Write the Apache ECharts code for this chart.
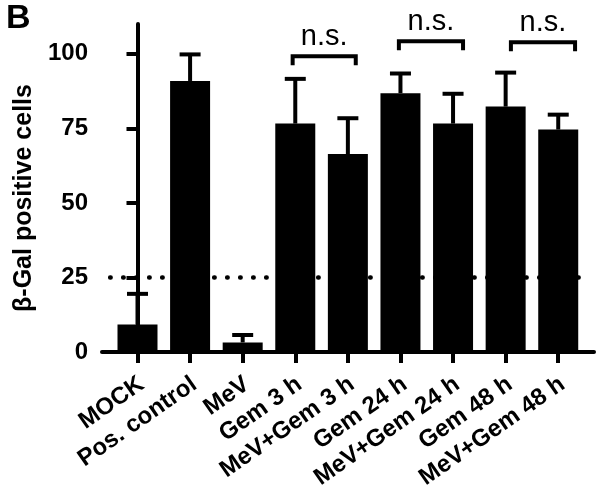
<!DOCTYPE html>
<html>
<head>
<meta charset="utf-8">
<script src="https://cdn.jsdelivr.net/npm/echarts@6/dist/echarts.min.js"></script>
<style>html,body{margin:0;padding:0;background:#fff}#c{width:602px;height:492px}</style>
</head>
<body>
<div id="c"></div>
<script>
const categories = ['MOCK','Pos. control','MeV','Gem 3 h','MeV+Gem 3 h','Gem 24 h','MeV+Gem 24 h','Gem 48 h','MeV+Gem 48 h'];
const means = [9.2, 90.9, 3.2, 76.6, 66.4, 86.8, 76.6, 82.3, 74.6];
const errUpper = [19.5, 99.8, 5.7, 91.6, 78.4, 93.4, 86.6, 93.7, 79.6];
const yTicks = [0, 25, 50, 75, 100];
const threshold = 25;
const bracketStart = [2.95, 4.97, 7.10];
const bracketEnd = [4.15, 6.19, 8.32];
const bracketHeight = [99.2, 104.2, 103.9];
const bracketLabel = ['n.s.', 'n.s.', 'n.s.'];

const FONT = '"Liberation Sans", Arial, Helvetica, sans-serif';
const catIdx = categories.map((c, i) => i);
const LABEL_SHIFT = 0.08;

const chart = echarts.init(document.getElementById('c'), null, {renderer: 'canvas'});
chart.setOption({
  animation: false,
  backgroundColor: '#fff',
  title: {text: 'B', left: 6, top: 2, padding: 0, textStyle: {fontFamily: FONT, fontSize: 34, fontWeight: 'bold', color: '#000'}},
  grid: {left: 102, right: 8, top: 24, bottom: 140, containLabel: false, outerBoundsMode: 'none'},
  xAxis: {
    type: 'value', min: -0.675, max: 8.68,
    axisLine: {show: true, lineStyle: {color: '#000', width: 4}},
    axisTick: {show: true, customValues: catIdx, length: 11, lineStyle: {color: '#000', width: 4}},
    axisLabel: {
      customValues: catIdx.map(i => i + LABEL_SHIFT), rotate: 35, margin: 30,
      formatter: v => categories[Math.round(v)] || '',
      fontFamily: FONT, fontSize: 24, fontWeight: 'bold', color: '#000'
    },
    splitLine: {show: false}
  },
  yAxis: {
    type: 'value', min: 0, max: 110,
    name: 'β-Gal positive cells', nameLocation: 'middle', nameRotate: 90, nameGap: 60,
    nameTextStyle: {fontFamily: FONT, fontSize: 25, fontWeight: 'bold', color: '#000', padding: [0, 20, 0, 0]},
    axisLine: {show: true, lineStyle: {color: '#000', width: 4}},
    axisTick: {show: true, customValues: yTicks, length: 11, lineStyle: {color: '#000', width: 4}},
    axisLabel: {customValues: yTicks, margin: 14, fontFamily: FONT, fontSize: 24, fontWeight: 'bold', color: '#000'},
    splitLine: {show: false}
  },
  series: [
    {
      type: 'line', data: [], z: 1, silent: true,
      markLine: {
        silent: true, symbol: 'none', label: {show: false},
        lineStyle: {color: '#000', width: 4.5, type: [0.5, 12.5], cap: 'round'},
        data: [[{coord: [-0.52, threshold]}, {coord: [8.56, threshold]}]]
      }
    },
    {
      type: 'bar', z: 2, barWidth: 40,
      itemStyle: {color: '#000'},
      data: means.map((v, i) => [i, v])
    },
    {
      type: 'custom', z: 3, clip: false,
      data: means.map((v, i) => [i, v, errUpper[i]]),
      renderItem: (params, api) => {
        const base = api.coord([api.value(0), api.value(1)]);
        const top = api.coord([api.value(0), api.value(2)]);
        const s = {stroke: '#000', lineWidth: 4};
        return {type: 'group', children: [
          {type: 'line', shape: {x1: base[0], y1: base[1], x2: top[0], y2: top[1]}, style: s},
          {type: 'line', shape: {x1: top[0] - 10.5, y1: top[1], x2: top[0] + 10.5, y2: top[1]}, style: s}
        ]};
      }
    },
    {
      type: 'custom', z: 3, clip: false,
      data: bracketStart.map((s, i) => [s, bracketEnd[i], bracketHeight[i]]),
      renderItem: (params, api) => {
        const p1 = api.coord([api.value(0), api.value(2)]);
        const p2 = api.coord([api.value(1), api.value(2)]);
        const leg = 9;
        return {type: 'group', children: [
          {type: 'polyline', shape: {points: [[p1[0], p1[1] + leg], [p1[0], p1[1]], [p2[0], p2[1]], [p2[0], p2[1] + leg]]},
           style: {stroke: '#000', lineWidth: 4, fill: null}},
          {type: 'text', x: (p1[0] + p2[0]) / 2, y: p1[1] - 5,
           style: {text: bracketLabel[params.dataIndex], fontFamily: FONT, fontSize: 29, fill: '#000', align: 'center', verticalAlign: 'bottom'}}
        ]};
      }
    }
  ]
});
</script>
</body>
</html>
